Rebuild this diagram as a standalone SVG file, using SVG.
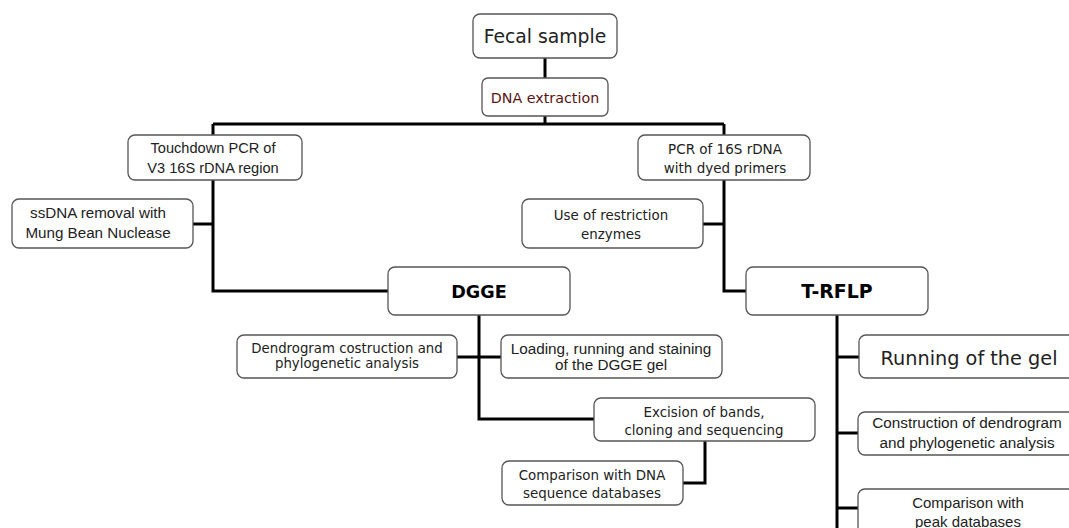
<svg xmlns="http://www.w3.org/2000/svg" width="1069" height="528" viewBox="0 0 1069 528">
<style>
.box{fill:#fff;stroke:#555;stroke-width:1.3}
.t{font-family:"DejaVu Sans",Verdana,sans-serif;fill:#222;text-anchor:middle}
.a{font-family:"Liberation Sans",Arial,sans-serif;fill:#222;text-anchor:middle}
.b{font-family:"DejaVu Sans",Verdana,sans-serif;font-weight:bold;fill:#000;text-anchor:middle}
.c{fill:none;stroke:#000;stroke-width:3;stroke-linejoin:miter;stroke-linecap:butt}
</style>
<rect width="1069" height="528" fill="#fff"/>
<g id="connectors">
<path class="c" d="M545,58V78"/>
<path class="c" d="M545,116V124"/>
<path class="c" d="M213,124H724"/>
<path class="c" d="M213,124V135"/>
<path class="c" d="M213,180V291H388"/>
<path class="c" d="M193,224H213"/>
<path class="c" d="M724,124V135"/>
<path class="c" d="M724,180V291H746"/>
<path class="c" d="M703,224H724"/>
<path class="c" d="M479,315V419H594"/>
<path class="c" d="M457,357H501"/>
<path class="c" d="M705,441V483H683"/>
<path class="c" d="M837,315V530"/>
<path class="c" d="M837,357H859"/>
<path class="c" d="M837,433H858"/>
<path class="c" d="M837,508H858"/>
</g>
<g id="fecal">
<rect class="box" x="473" y="14" width="144" height="44" rx="7"/>
<text class="t" x="545" y="43" font-size="18.8">Fecal sample</text>
</g>
<g id="dna-extraction">
<rect class="box" x="482" y="78" width="126" height="38" rx="6"/>
<text class="t" x="545" y="102.5" font-size="14.3" style="fill:#5a1414">DNA extraction</text>
</g>
<g id="touchdown">
<rect class="box" x="128" y="135" width="174" height="45" rx="7"/>
<text class="a" font-size="14.6"><tspan x="213" y="153">Touchdown PCR of</tspan><tspan x="213" y="173">V3 16S rDNA region</tspan></text>
</g>
<g id="pcr16s">
<rect class="box" x="638" y="135" width="172" height="45" rx="7"/>
<text class="t" font-size="13.5"><tspan x="725" y="154">PCR of 16S rDNA</tspan><tspan x="725" y="173">with dyed primers</tspan></text>
</g>
<g id="ssdna">
<rect class="box" x="12" y="199" width="181" height="49" rx="7"/>
<text class="a" font-size="15.2"><tspan x="98" y="218">ssDNA removal with</tspan><tspan x="98" y="238">Mung Bean Nuclease</tspan></text>
</g>
<g id="restriction">
<rect class="box" x="522" y="199" width="181" height="49" rx="7"/>
<text class="t" font-size="13.4"><tspan x="611" y="220">Use of restriction</tspan><tspan x="611" y="239">enzymes</tspan></text>
</g>
<g id="dgge">
<rect class="box" x="388" y="267" width="182" height="48" rx="7"/>
<text class="b" x="479" y="298" font-size="17.6">DGGE</text>
</g>
<g id="trflp">
<rect class="box" x="746" y="267" width="182" height="48" rx="7"/>
<text class="b" x="837" y="298" font-size="18.9">T-RFLP</text>
</g>
<g id="dendrogram">
<rect class="box" x="237" y="335" width="220" height="43" rx="7"/>
<text class="t" font-size="13.3"><tspan x="347" y="353">Dendrogram costruction and</tspan><tspan x="347" y="368">phylogenetic analysis</tspan></text>
</g>
<g id="loading">
<rect class="box" x="501" y="335" width="221" height="43" rx="7"/>
<text class="a" font-size="15.3"><tspan x="611" y="354">Loading, running and staining</tspan><tspan x="611" y="370">of the DGGE gel</tspan></text>
</g>
<g id="running">
<rect class="box" x="859" y="335" width="220" height="43" rx="7"/>
<text class="t" x="969" y="365" font-size="19.3">Running of the gel</text>
</g>
<g id="excision">
<rect class="box" x="594" y="398" width="221" height="43" rx="7"/>
<text class="t" font-size="13.4"><tspan x="704" y="417">Excision of bands,</tspan><tspan x="704" y="435">cloning and sequencing</tspan></text>
</g>
<g id="comparison-dna">
<rect class="box" x="502" y="461" width="181" height="44" rx="7"/>
<text class="t" font-size="13.4"><tspan x="592" y="480">Comparison with DNA</tspan><tspan x="592" y="498">sequence databases</tspan></text>
</g>
<g id="construction">
<rect class="box" x="858" y="412" width="220" height="43" rx="7"/>
<text class="a" font-size="15.3"><tspan x="967" y="428">Construction of dendrogram</tspan><tspan x="967" y="448">and phylogenetic analysis</tspan></text>
</g>
<g id="comparison-peak">
<rect class="box" x="858" y="489" width="220" height="50" rx="7"/>
<text class="a" font-size="15"><tspan x="968" y="508">Comparison with</tspan><tspan x="968" y="527">peak databases</tspan></text>
</g>
</svg>
